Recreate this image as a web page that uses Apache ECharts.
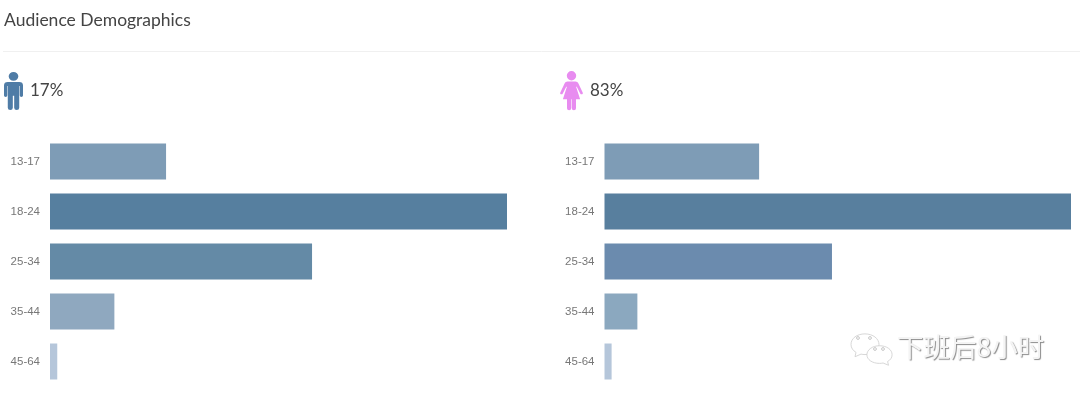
<!DOCTYPE html>
<html>
<head>
<meta charset="utf-8">
<style>
  html, body { margin: 0; padding: 0; background: #fff; }
  #chart { width: 1080px; height: 395px; }
</style>
</head>
<body>
<div id="chart"></div>
<script src="https://cdn.jsdelivr.net/npm/echarts@6/dist/echarts.min.js"></script>
<script>
const ageGroups = ['13-17', '18-24', '25-34', '35-44', '45-64']
const maleValues = [12.8, 50.4, 28.9, 7.1, 0.8]
const femaleValues = [17.4, 52.5, 25.6, 3.7, 0.8]
const maleColors = ['#7e9cb6', '#567f9f', '#648aa6', '#8fa8bf', '#b5c6da']
const femaleColors = ['#7e9cb6', '#587f9e', '#6b8bae', '#8ba8bf', '#b5c6da']
const titleText = 'Audience Demographics'
const malePercent = '17%'
const femalePercent = '83%'
const watermark = '下班后8小时'

const manPath = 'M9.05 0a4.6 4.6 0 1 1 0 9.2a4.6 4.6 0 1 1 0-9.2zM3.6 10.6h10.9a3.6 3.6 0 0 1 3.6 3.6v10.6a1.55 1.55 0 0 1-3.1 0v-10h-.5v23a2.4 2.4 0 0 1-4.8 0v-12.6h-1.3v12.6a2.4 2.4 0 0 1-4.8 0v-23h-.5v10a1.55 1.55 0 0 1-3.1 0v-10.6a3.6 3.6 0 0 1 3.6-3.6z'
const womanPath = 'M11.5 0a4.7 4.7 0 1 1 0 9.4a4.7 4.7 0 1 1 0-9.4zM7.5 10.4h8c1.3 0 2.2.7 2.8 1.8l4.4 9.2c.8 1.7-1.6 2.8-2.5 1.1l-3.4-6.8h-.7l4 12.5h-4.1v9a2.1 2.1 0 0 1-4.2 0v-9h-.6v9a2.1 2.1 0 0 1-4.2 0v-9h-4.1l4-12.5h-.7l-3.4 6.8c-.9 1.7-3.3.6-2.5-1.1l4.4-9.2c.6-1.1 1.5-1.8 2.8-1.8z'
const bubblePath = 'M15 1C7 1 1 6 1 13c0 4 2 7 5 9l-1 5 6-3c1.3.3 2.6.5 4 .5C23 24.5 29 19.5 29 13S23 1 15 1z'

echarts.graphic.registerShape('manIcon', echarts.graphic.extendPath(manPath, {}))
echarts.graphic.registerShape('womanIcon', echarts.graphic.extendPath(womanPath, {}))
echarts.graphic.registerShape('bubbleIcon', echarts.graphic.extendPath(bubblePath, {}))

function barSeries(values, colors, idx) {
  return {
    type: 'bar',
    xAxisIndex: idx,
    yAxisIndex: idx,
    barWidth: 36,
    silent: true,
    data: values.map((v, i) => ({ value: v, itemStyle: { color: colors[i] } }))
  }
}

function catAxis(idx) {
  return {
    type: 'category',
    gridIndex: idx,
    inverse: true,
    data: ageGroups,
    axisLine: { show: false },
    axisTick: { show: false },
    axisLabel: { color: '#777', fontSize: 11.5, fontFamily: 'Liberation Sans', margin: 10 }
  }
}

function valAxis(idx, max) {
  return { type: 'value', gridIndex: idx, min: 0, max: max, show: false }
}

function eye(x, y) {
  return { type: 'circle', shape: { cx: x, cy: y, r: 1.4 }, style: { fill: '#fff', stroke: '#c8c8c8', lineWidth: 1 } }
}

const chart = echarts.init(document.getElementById('chart'))
chart.setOption({
  animation: false,
  backgroundColor: '#fff',
  grid: [
    { left: 50, top: 136.5, width: 457, height: 250 },
    { left: 604.5, top: 136.5, width: 466.5, height: 250 }
  ],
  xAxis: [valAxis(0, 50.4), valAxis(1, 52.5)],
  yAxis: [catAxis(0), catAxis(1)],
  series: [barSeries(maleValues, maleColors, 0), barSeries(femaleValues, femaleColors, 1)],
  graphic: [
    { type: 'text', x: 4, y: 11, style: { text: titleText, font: '17.5px Lato', fill: '#444' } },
    { type: 'line', shape: { x1: 3, y1: 51.5, x2: 1080, y2: 51.5 }, style: { stroke: '#f0f0f0', lineWidth: 1 } },
    { type: 'manIcon', x: 4, y: 72, scaleX: 1.05, scaleY: 0.945, style: { fill: '#4f7ca6' } },
    { type: 'text', x: 30, y: 82, style: { text: malePercent, font: '17px Lato', fill: '#444' } },
    { type: 'womanIcon', x: 560, y: 71, style: { fill: '#e88cf0' } },
    { type: 'text', x: 590, y: 82, style: { text: femalePercent, font: '17px Lato', fill: '#444' } },
    { type: 'bubbleIcon', x: 850, y: 333, scaleX: 1, scaleY: 0.88, style: { fill: '#fff', stroke: '#d4d4d4', lineWidth: 1 } },
    eye(858, 338), eye(870, 338),
    { type: 'bubbleIcon', x: 893, y: 345, scaleX: -0.9, scaleY: 0.75, style: { fill: '#fff', stroke: '#cfcfcf', lineWidth: 1 } },
    eye(875, 349), eye(883, 349),
    { type: 'text', x: 897, y: 334, style: {
      text: watermark, font: '26.5px "Noto Sans CJK SC"', fill: '#f4f4f4',
      textShadowColor: '#8c8c8c', textShadowBlur: 1, textShadowOffsetX: 1, textShadowOffsetY: 1
    } }
  ]
})
</script>
</body>
</html>
